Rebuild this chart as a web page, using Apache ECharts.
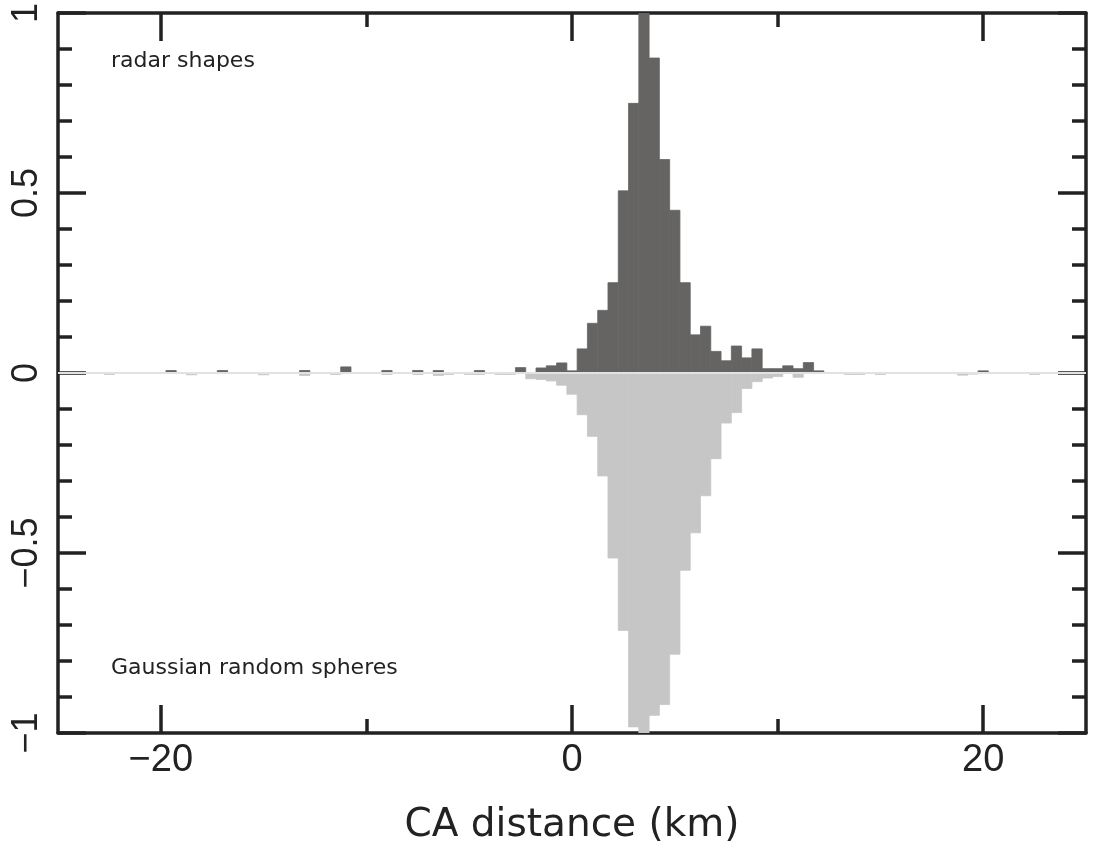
<!DOCTYPE html>
<html>
<head>
<meta charset="utf-8">
<script src="https://cdn.jsdelivr.net/npm/echarts@6/dist/echarts.min.js"></script>
<style>
html,body{margin:0;padding:0;background:#fff;}
#chart{width:1093px;height:850px;}
</style>
</head>
<body>
<div id="chart"></div>
<script>
// ---- data (bin centres in km, bin width 0.5 km) ----
const binWidth = 0.5;
const radarX = [-19.5, -17, -13, -11, -9, -7.5, -6.5, -4.5, -2.5, -1.5, -1, -0.5, 0, 0.5, 1, 1.5, 2, 2.5, 3, 3.5, 4, 4.5, 5, 5.5, 6, 6.5, 7, 7.5, 8, 8.5, 9, 9.5, 10, 10.5, 11, 11.5, 12, 20];
const radarY = [0.007, 0.007, 0.007, 0.017, 0.007, 0.007, 0.007, 0.007, 0.015, 0.014, 0.02, 0.028, 0.006, 0.067, 0.138, 0.174, 0.251, 0.506, 0.749, 1.0, 0.875, 0.593, 0.452, 0.251, 0.106, 0.13, 0.06, 0.034, 0.075, 0.042, 0.067, 0.012, 0.012, 0.02, 0.012, 0.029, 0.006, 0.006];
const gaussX = [-22.5, -18.5, -15, -13, -11.5, -9, -7.5, -6.5, -6, -5, -4.5, -3.5, -3, -2, -1.5, -1, -0.5, 0, 0.5, 1, 1.5, 2, 2.5, 3, 3.5, 4, 4.5, 5, 5.5, 6, 6.5, 7, 7.5, 8, 8.5, 9, 9.5, 10, 11, 13.5, 14, 15, 19, 19.5, 22.5];
const gaussY = [0.004, 0.005, 0.005, 0.007, 0.004, 0.004, 0.004, 0.007, 0.004, 0.004, 0.004, 0.004, 0.004, 0.016, 0.018, 0.022, 0.034, 0.059, 0.116, 0.176, 0.286, 0.514, 0.715, 0.983, 1.0, 0.951, 0.921, 0.781, 0.548, 0.444, 0.341, 0.238, 0.139, 0.110, 0.043, 0.024, 0.014, 0.01, 0.012, 0.004, 0.004, 0.004, 0.006, 0.003, 0.004];
const xMajorTicks = [-20, 0, 20];
const xMinorTicks = [-10, 10];
const yMin = -1, yMax = 1, yInterval = 0.5;
const xMin = -25, xMax = 25;
const labelTop = 'radar shapes';
const labelBottom = 'Gaussian random spheres';
const xTitle = 'CA distance (km)';

// ---- chart ----
const DARK = '#656463', LIGHT = '#c6c6c6', INK = '#222222';
const minus = v => String(v).replace('-', '\u2212');

function histRender(color) {
  return function (params, api) {
    const x = api.value(0), y = api.value(1);
    const p0 = api.coord([x - binWidth / 2, 0]);
    const p1 = api.coord([x + binWidth / 2, y]);
    return {
      type: 'rect',
      shape: { x: p0[0], y: Math.min(p0[1], p1[1]), width: p1[0] - p0[0], height: Math.abs(p1[1] - p0[1]) },
      style: { fill: color, stroke: color, lineWidth: 0.8 }
    };
  };
}

const lineStyle = { color: INK, width: 3.5 };
function xAxisDef(pos, ticks, len, showLine, showLabel) {
  return {
    type: 'value', position: pos, min: xMin, max: xMax,
    axisLine: { show: showLine, onZero: false, lineStyle: lineStyle },
    axisTick: { show: true, inside: true, length: len, customValues: ticks, lineStyle: lineStyle },
    axisLabel: showLabel ? { show: true, customValues: ticks, formatter: minus, fontFamily: 'Liberation Sans', fontSize: 38, color: INK, margin: 9 } : { show: false },
    splitLine: { show: false }
  };
}
function yAxisDef(pos, showLabel) {
  return {
    type: 'value', position: pos, min: yMin, max: yMax, interval: yInterval,
    axisLine: { show: true, onZero: false, lineStyle: lineStyle },
    axisTick: { show: true, inside: true, length: 28, lineStyle: lineStyle },
    minorTick: { show: true, splitNumber: 5, length: 14, lineStyle: lineStyle },
    axisLabel: showLabel ? { show: true, rotate: 90, formatter: minus, fontFamily: 'Liberation Sans', fontSize: 36, color: INK, margin: 13 } : { show: false },
    splitLine: { show: false }, minorSplitLine: { show: false }
  };
}

const xMain = xAxisDef('bottom', xMajorTicks, 28, true, true);
xMain.name = xTitle;
xMain.nameLocation = 'middle';
xMain.nameGap = 73;
xMain.nameTextStyle = { fontFamily: 'DejaVu Sans', fontSize: 39, color: INK };

const option = {
  animation: false,
  backgroundColor: '#ffffff',
  grid: { left: 58, right: 7, top: 8, bottom: 115, containLabel: false },
  xAxis: [
    xMain,
    xAxisDef('bottom', xMinorTicks, 14, false, false),
    xAxisDef('top', xMajorTicks, 28, true, false),
    xAxisDef('top', xMinorTicks, 14, false, false)
  ],
  yAxis: [yAxisDef('left', true), yAxisDef('right', false)],
  series: [
    {
      type: 'custom', name: 'zero', xAxisIndex: 0, yAxisIndex: 0, data: [], z: 1,
      renderItem: function () { return null; },
      markLine: { silent: true, symbol: 'none', label: { show: false }, lineStyle: { color: '#e2e2e2', width: 2, type: 'solid' }, data: [{ yAxis: 0 }] }
    },
    {
      type: 'custom', name: labelBottom, xAxisIndex: 0, yAxisIndex: 0, z: 2, clip: true,
      renderItem: histRender(LIGHT),
      data: gaussX.map((x, i) => [x, -gaussY[i]])
    },
    {
      type: 'custom', name: labelTop, xAxisIndex: 0, yAxisIndex: 0, z: 3, clip: true,
      renderItem: histRender(DARK),
      data: radarX.map((x, i) => [x, radarY[i]])
    }
  ],
  graphic: [
    { type: 'text', left: 111, top: 50, style: { text: labelTop, fontFamily: 'DejaVu Sans', fontSize: 22, fill: INK } },
    { type: 'text', left: 111, top: 657, style: { text: labelBottom, fontFamily: 'DejaVu Sans', fontSize: 22, fill: INK } }
  ]
};

const chart = echarts.init(document.getElementById('chart'), null, { renderer: 'canvas' });
chart.setOption(option);
</script>
</body>
</html>
